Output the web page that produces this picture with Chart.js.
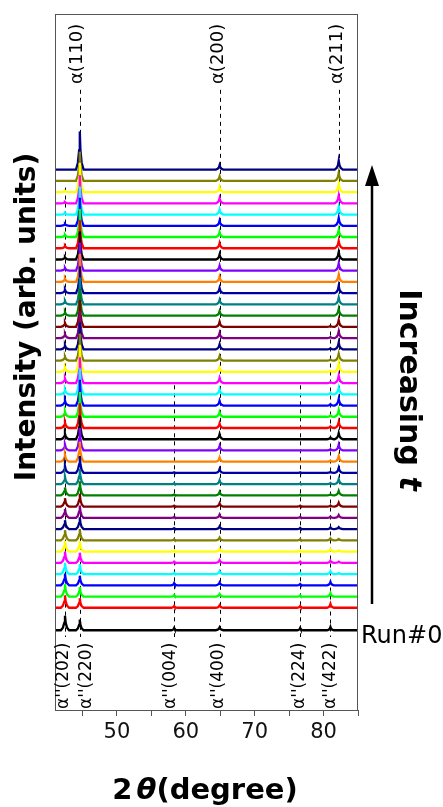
<!DOCTYPE html>
<html>
<head>
<meta charset="utf-8">
<script src="https://cdn.jsdelivr.net/npm/chart.js@4.4.1/dist/chart.umd.min.js"></script>
<style>
  html, body { margin: 0; padding: 0; background: #fff; }
  canvas { display: block; }
</style>
</head>
<body>
<canvas id="xrd" width="443" height="807"></canvas>
<script>
// peak positions (2theta) and half widths of the drawn peaks
const peakPos = [42.45, 44.6, 58.3, 64.9, 76.6, 81.0, 82.2];
const peakHalfWidth = [0.6, 0.55, 0.45, 0.55, 0.45, 0.5, 0.6];

// peak heights per run (Run#0 first, top trace last), arb. units
const h202 = [1.3, 1.1, 1.1, 1.05, 1.0, 1.0, 0.95, 0.9, 0.8, 0.8, 0.75, 0.7, 0.65, 0.6, 0.6, 0.5, 0.5, 0.5, 0.45, 0.45, 0.4,
  0.4, 0.4, 0.35, 0.35, 0.35, 0.35, 0.3, 0.3, 0.3, 0.3, 0.25, 0.2, 0.2, 0.2, 0.15, 0.12, 0.1, 0.1, 0, 0];
const h110 = [0.95, 0.85, 0.85, 0.85, 0.9, 0.9, 0.95, 1.0, 1.05, 1.1, 1.15, 1.25, 1.35, 1.5, 1.8, 2.0, 2.1, 2.2, 2.2, 2.3, 2.3,
  2.3, 2.4, 2.4, 2.4, 2.4, 2.4, 2.4, 2.4, 2.4, 2.5, 2.5, 2.5, 2.5, 2.5, 2.5, 2.5, 2.5, 2.6, 2.6, 3.4];
const h004 = [0.2, 0.15, 0.12, 0.2, 0.1, 0.1, 0.1, 0.1, 0.08, 0.08, 0.08, 0.08, 0.08, 0.05, 0, 0, 0, 0, 0, 0, 0,
  0, 0, 0, 0, 0, 0, 0, 0, 0, 0, 0, 0, 0, 0, 0, 0, 0, 0, 0, 0];
const h200 = [0.25, 0.22, 0.22, 0.25, 0.25, 0.25, 0.25, 0.25, 0.25, 0.28, 0.3, 0.3, 0.35, 0.35, 0.38, 0.4, 0.45, 0.4, 0.4, 0.42, 0.45,
  0.45, 0.4, 0.4, 0.45, 0.45, 0.45, 0.4, 0.4, 0.45, 0.45, 0.45, 0.45, 0.45, 0.45, 0.45, 0.45, 0.45, 0.45, 0.4, 0.4];
const h224 = [0.2, 0.15, 0.1, 0.12, 0.1, 0.1, 0.1, 0.1, 0.1, 0.08, 0.08, 0.05, 0.05, 0.05, 0, 0, 0, 0, 0, 0, 0,
  0, 0, 0, 0, 0, 0, 0, 0, 0, 0, 0, 0, 0, 0, 0, 0, 0, 0, 0, 0];
const h422 = [0.3, 0.35, 0.3, 0.3, 0.25, 0.2, 0.2, 0.18, 0.15, 0.12, 0.1, 0.1, 0.1, 0.1, 0.1, 0.12, 0.15, 0.15, 0.12, 0.12, 0.12,
  0.1, 0.1, 0.1, 0.1, 0.1, 0.08, 0, 0, 0, 0, 0, 0, 0, 0, 0, 0, 0, 0, 0, 0];
const h211 = [0, 0, 0, 0, 0.08, 0.1, 0.1, 0.12, 0.18, 0.25, 0.35, 0.4, 0.45, 0.45, 0.5, 0.5, 0.55, 0.55, 0.6, 0.6, 0.6,
  0.65, 0.75, 0.6, 0.6, 0.6, 0.6, 0.6, 0.6, 0.65, 0.65, 0.65, 0.65, 0.65, 0.65, 0.7, 0.7, 0.7, 0.7, 0.7, 0.8];
const peakHeights = [h202, h110, h004, h200, h224, h422, h211];

// trace colours, bottom (Run#0) to top
const runColors = [
  '#000000',
  '#ff0000', '#00ff00', '#0000ff', '#00ffff', '#ff00ff', '#ffff00', '#808000', '#000080',
  '#800080', '#800000', '#008000', '#008080', '#0000a0', '#ff8000', '#8000ff',
  '#000000', '#ff0000', '#00ff00', '#0000ff', '#00ffff', '#ff00ff', '#ffff00', '#808000', '#000080',
  '#800080', '#800000', '#008000', '#008080', '#0000a0', '#ff8000', '#8000ff',
  '#000000', '#ff0000', '#00ff00', '#0000ff', '#00ffff', '#ff00ff', '#ffff00', '#808000', '#000080'
];

const xTicks = [45, 50, 55, 60, 65, 70, 75, 80, 85];

// reflection labels
const alphaLabels = ['α(110)', 'α(200)', 'α(211)'];
const alphaAt = [44.6, 64.9, 82.2];
const alpha2Labels = ["α''(202)", "α''(220)", "α''(004)", "α''(400)", "α''(224)", "α''(422)"];
const alpha2At = [42.45, 44.6, 58.3, 65.0, 76.6, 81.0];

// build one trace: flat baseline with peaks
function trace(i) {
  const off = i === 0 ? 0 : i + 1;
  const pts = [{ x: 41, y: off }];
  peakPos.forEach((p, j) => {
    const h = peakHeights[j][i], w = peakHalfWidth[j];
    if (!h) return;
    pts.push({ x: p - w, y: off }, { x: p - 0.5 * w, y: off + 0.18 * h }, { x: p - 0.18 * w, y: off + 0.5 * h },
      { x: p, y: off + h },
      { x: p + 0.18 * w, y: off + 0.5 * h }, { x: p + 0.5 * w, y: off + 0.18 * h }, { x: p + w, y: off });
  });
  pts.push({ x: 85, y: off });
  return pts;
}

const datasets = runColors.map((c, i) => ({
  data: trace(i),
  borderColor: c,
  borderWidth: 2.3,
  pointRadius: 0,
  tension: 0,
  fill: false
}));

const guides = [
  { pos: 44.6, from: 48.1, to: -0.6 },
  { pos: 64.9, from: 48.1, to: -0.6 },
  { pos: 82.2, from: 48.1, to: 13 },
  { pos: 42.45, from: 39.4, to: -0.6 },
  { pos: 58.3, from: 21.8, to: -0.6 },
  { pos: 76.6, from: 21.8, to: -0.6 },
  { pos: 81.0, from: 27.3, to: -0.6 }
];

const guideLines = {
  id: 'guideLines',
  beforeDatasetsDraw(chart) {
    const { ctx, scales: { x, y } } = chart;
    ctx.save();
    ctx.setLineDash([4, 4]);
    ctx.lineWidth = 1;
    ctx.strokeStyle = '#000';
    guides.forEach(g => {
      const px = Math.round(x.getPixelForValue(g.pos)) + 0.5;
      ctx.beginPath();
      ctx.moveTo(px, y.getPixelForValue(g.from));
      ctx.lineTo(px, y.getPixelForValue(g.to));
      ctx.stroke();
    });
    ctx.restore();
  }
};

function vText(ctx, txt, x, y, ang, font, align) {
  ctx.save();
  ctx.translate(x, y);
  ctx.rotate(ang);
  ctx.font = font;
  ctx.textAlign = align;
  ctx.textBaseline = 'middle';
  ctx.fillText(txt, 0, 0);
  ctx.restore();
}

const decor = {
  id: 'decor',
  afterDraw(chart) {
    const { ctx, chartArea: a, scales: { x } } = chart;
    ctx.save();
    // frame
    ctx.strokeStyle = '#555';
    ctx.lineWidth = 1;
    ctx.strokeRect(a.left + 0.5, a.top + 0.5, a.right - a.left - 1, a.bottom - a.top);
    ctx.fillStyle = '#000';
    // reflection labels
    const topNudge = [-2.5, -1, -1];
    alphaLabels.forEach((t, i) => vText(ctx, t, x.getPixelForValue(alphaAt[i]) + topNudge[i], 84, -Math.PI / 2, '18px "DejaVu Sans"', 'left'));
    const botNudge = [-1, 7, -4, -2, -1, 0];
    alpha2Labels.forEach((t, i) => vText(ctx, t, x.getPixelForValue(alpha2At[i]) + botNudge[i], 709, -Math.PI / 2, '17px "DejaVu Sans"', 'left'));
    // y title
    vText(ctx, 'Intensity (arb. units)', 28, 317, -Math.PI / 2, 'bold 28px "DejaVu Sans"', 'center');
    // x title: 2θ(degree)
    ctx.textBaseline = 'alphabetic';
    ctx.textAlign = 'left';
    const f1 = 'bold 29px "DejaVu Sans"', f2 = 'italic bold 29px "DejaVu Sans"';
    ctx.font = f1; const w1 = ctx.measureText('2').width, w3 = ctx.measureText('(degree)').width;
    ctx.font = f2; const w2 = ctx.measureText('θ').width;
    let tx = 205 - (w1 + 4 + w2 + w3) / 2;
    ctx.font = f1; ctx.fillText('2', tx, 799); tx += w1 + 4;
    ctx.font = f2; ctx.fillText('θ', tx, 799); tx += w2;
    ctx.font = f1; ctx.fillText('(degree)', tx, 799);
    // arrow
    ctx.strokeStyle = '#000';
    ctx.lineWidth = 2.5;
    ctx.beginPath(); ctx.moveTo(372, 604); ctx.lineTo(372, 180); ctx.stroke();
    ctx.beginPath(); ctx.moveTo(372, 165); ctx.lineTo(379, 186); ctx.lineTo(365, 186); ctx.closePath(); ctx.fill();
    // Increasing t
    ctx.save();
    ctx.translate(408, 390);
    ctx.rotate(Math.PI / 2);
    ctx.textBaseline = 'middle';
    const g1 = 'bold 30px "DejaVu Sans"', g2 = 'italic bold 30px "DejaVu Sans"';
    ctx.font = g1; const a1 = ctx.measureText('Increasing ').width;
    ctx.font = g2; const a2 = ctx.measureText('t').width;
    ctx.font = g1; ctx.fillText('Increasing ', -(a1 + a2) / 2, 0);
    ctx.font = g2; ctx.fillText('t', -(a1 + a2) / 2 + a1, 0);
    ctx.restore();
    // Run#0
    ctx.font = '24px "DejaVu Sans"';
    ctx.fillText('Run#0', 361, 643);
    ctx.restore();
  }
};

new Chart(document.getElementById('xrd'), {
  type: 'line',
  data: { datasets },
  options: {
    responsive: false,
    animation: false,
    devicePixelRatio: 1,
    layout: { padding: { left: 55, top: 14, right: 85, bottom: 0 } },
    plugins: { legend: { display: false }, tooltip: { enabled: false } },
    scales: {
      x: {
        type: 'linear',
        min: 41,
        max: 85,
        afterBuildTicks: s => { s.ticks = xTicks.map(v => ({ value: v })); },
        afterFit: s => { s.height = 97; },
        grid: { drawOnChartArea: false, drawTicks: true, tickLength: 6, color: '#555' },
        border: { display: false },
        ticks: {
          autoSkip: false,
          maxRotation: 0,
          padding: 4,
          color: '#111',
          font: { family: 'DejaVu Sans', size: 21 },
          callback: v => (v % 10 === 0 ? v : '')
        }
      },
      y: { display: false, min: -7.1, max: 54.85 }
    }
  },
  plugins: [guideLines, decor]
});
</script>
</body>
</html>
